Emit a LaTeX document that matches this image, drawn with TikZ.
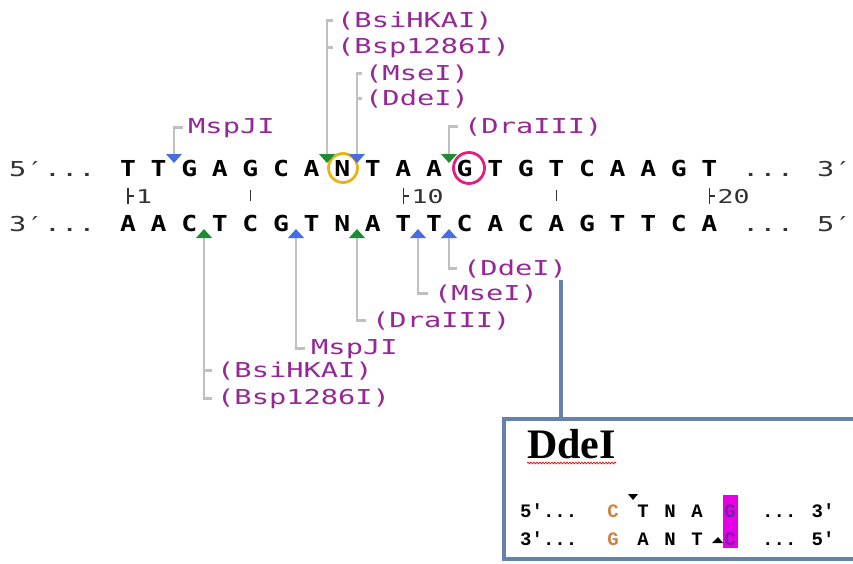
\documentclass[tikz,border=0pt]{standalone}
\usepackage{fontspec}
\usetikzlibrary{decorations.pathmorphing}
\newfontfamily\labfont[FakeStretch=1.4]{DejaVu Sans Mono}
\newfontfamily\seqfont[FakeStretch=1.2]{DejaVu Sans Mono}
\newfontfamily\boxserif{Liberation Serif}
\newfontfamily\boxmono{Liberation Mono}
\definecolor{lab}{RGB}{150,40,150}
\definecolor{gline}{RGB}{192,192,192}
\definecolor{tblue}{RGB}{70,110,225}
\definecolor{tgreen}{RGB}{30,140,50}
\definecolor{steel}{RGB}{100,130,170}
\definecolor{ocirc}{RGB}{232,178,20}
\definecolor{pcirc}{RGB}{225,30,130}
\definecolor{tanc}{RGB}{205,130,70}
\definecolor{hmag}{RGB}{230,0,230}
\definecolor{hletter}{RGB}{120,30,170}
\definecolor{numc}{RGB}{50,50,50}
\tikzset{
  seq/.style={font=\seqfont\bfseries\fontsize{22}{22}\selectfont, inner sep=0pt, anchor=base},
  endtxt/.style={font=\labfont\fontsize{20.5}{20.5}\selectfont, text=numc, inner sep=0pt, anchor=base west},
  enz/.style={font=\labfont\fontsize{20.5}{20.5}\selectfont, text=lab, inner sep=0pt, anchor=base west},
  num/.style={font=\labfont\fontsize{19}{19}\selectfont, text=numc, inner sep=0pt, anchor=base west},
  gl/.style={draw=gline, line width=2.5pt},
  tick/.style={draw=numc, line width=1.4pt},
  steelline/.style={draw=steel, line width=3.5pt},
  bxt/.style={font=\boxmono\bfseries\fontsize{19}{19}\selectfont, inner sep=0pt, anchor=base},
  bxw/.style={font=\boxmono\bfseries\fontsize{19}{19}\selectfont, inner sep=0pt, anchor=base west},
}
\begin{document}
\begin{tikzpicture}[x=1pt,y=-1pt]
\useasboundingbox[fill=white] (0,0) rectangle (853,563);

% strands
\node[endtxt] (l5) at (9,176) {5′...};
\node[endtxt] (r3) at (742,176) {... 3′};
\node[endtxt] (l3) at (9,231) {3′...};
\node[endtxt] (r5) at (742,231) {... 5′};
\foreach \c [count=\i] in {T,T,G,A,G,C,A,N,T,A,A,G,T,G,T,C,A,A,G,T}
  \node[seq] (t\i) at ({128+(\i-1)*30.6},176) {\c};
\foreach \c [count=\i] in {A,A,C,T,C,G,T,N,A,T,T,C,A,C,A,G,T,T,C,A}
  \node[seq] (b\i) at ({128+(\i-1)*30.6},231) {\c};

% highlight circles
\node[circle, draw=ocirc, line width=2.8pt, minimum size=29pt, inner sep=0pt] (cN) at (343,168) {};
\node[circle, draw=pcirc, line width=2.8pt, minimum size=31pt, inner sep=0pt] (cG) at (469,168) {};

% ruler
\foreach \p/\n in {1/1,10/10,20/20}{
  \coordinate (k\p) at ({128+(\p-1)*30.6},188);
  \draw[tick] (k\p) -- ++(0,16);
  \draw[tick] ([yshift=-8pt]k\p) -- ++(6,0);
  \node[num] (n\p) at ([xshift=8pt,yshift=-15pt]k\p) {\n};
}
\foreach \p in {5,15}{
  \coordinate (k\p) at ({128+(\p-1)*30.6},190);
  \draw[tick] (k\p) -- ++(0,11);
}

% top labels
\node[enz] (tBsi) at (337,27) {(BsiHKAI)};
\node[enz] (tBsp) at (337,53) {(Bsp1286I)};
\node[enz] (tMse) at (365,80) {(MseI)};
\node[enz] (tDde) at (365,105) {(DdeI)};
\node[enz] (tMsp) at (188,133) {MspJI};
\node[enz] (tDra) at (464,133) {(DraIII)};

% bottom labels
\node[enz] (bDde) at (463,275) {(DdeI)};
\node[enz] (bMse) at (434,300) {(MseI)};
\node[enz] (bDra) at (372,327) {(DraIII)};
\node[enz] (bMsp) at (311,354) {MspJI};
\node[enz] (bBsi) at (217,377) {(BsiHKAI)};
\node[enz] (bBsp) at (217,404) {(Bsp1286I)};

% top cut sites
\coordinate (u1) at (174,154);
\coordinate (u2) at (327,154);
\coordinate (u3) at (357,154);
\coordinate (u4) at (449,154);
\draw[gl] (u1) |- ([xshift=-5pt]tMsp.west);
\draw[gl] (u2) |- ([xshift=-4pt]tBsi.west);
\draw[gl] (u2 |- tBsp.west) -- ([xshift=-4pt]tBsp.west);
\draw[gl] (u3) |- ([xshift=-3pt]tMse.west);
\draw[gl] (u3 |- tDde.west) -- ([xshift=-3pt]tDde.west);
\draw[gl] (u4) |- ([xshift=-6pt]tDra.west);
\foreach \c/\col in {u1/tblue,u2/tgreen,u3/tblue,u4/tgreen}
  \fill[\col] ([xshift=-8pt]\c) -- ([xshift=8pt]\c) -- ([yshift=-9pt]\c) -- cycle;

% bottom cut sites
\coordinate (d1) at (204,238);
\coordinate (d2) at (296,238);
\coordinate (d3) at (357,238);
\coordinate (d4) at (418,238);
\coordinate (d5) at (449,238);
\draw[gl] (d1) |- ([xshift=-5pt]bBsp.west);
\draw[gl] (d1 |- bBsi.west) -- ([xshift=-5pt]bBsi.west);
\draw[gl] (d2) |- ([xshift=-6pt]bMsp.west);
\draw[gl] (d3) |- ([xshift=-6pt]bDra.west);
\draw[gl] (d4) |- ([xshift=-6pt]bMse.west);
\draw[gl] (d5) |- ([xshift=-6pt]bDde.west);
\foreach \c/\col in {d1/tgreen,d2/tblue,d3/tgreen,d4/tblue,d5/tblue}
  \fill[\col] ([xshift=-8pt]\c) -- ([xshift=8pt]\c) -- ([yshift=9pt]\c) -- cycle;

% DdeI detail box
\node[draw=steel, line width=3.5pt, minimum width=370pt, minimum height=140pt, anchor=north west, inner sep=0pt] (box) at (502,417) {};
\coordinate (cs) at (561,280);
\draw[steelline] (cs) -- (cs |- box.north);

\node[anchor=base west, inner sep=0pt, font=\boxserif\bfseries\fontsize{42}{42}\selectfont] (dname) at (527,458) {DdeI};
\draw[red, line width=0.7pt, decorate, decoration={snake, amplitude=0.9pt, segment length=3pt}]
  ([yshift=-5pt]dname.base west) -- ([yshift=-5pt]dname.base east);

\fill[hmag] (723,495) rectangle (738,548);
\node[bxw] (s5) at (520,517) {5'...};
\node[bxw] (s3) at (520,545) {3'...};
\node[bxw] (e3) at (762,517) {... 3'};
\node[bxw] (e5) at (762,545) {... 5'};
\foreach \c/\x/\col in {C/613/tanc,T/643/black,N/670/black,A/697/black,G/730/hletter}
  \node[bxt, text=\col] at (\x,517) {\c};
\foreach \c/\x/\col in {G/613/tanc,A/643/black,N/670/black,T/697/black,C/730/hletter}
  \node[bxt, text=\col] at (\x,545) {\c};
\coordinate (cut1) at (633,494);
\coordinate (cut2) at (718,543);
\fill[black] ([xshift=-5pt]cut1) -- ([xshift=5pt]cut1) -- ([yshift=-6pt]cut1) -- cycle;
\fill[black] ([xshift=-6pt]cut2) -- ([xshift=5pt]cut2) -- ([yshift=6pt]cut2) -- cycle;
\end{tikzpicture}
\end{document}
